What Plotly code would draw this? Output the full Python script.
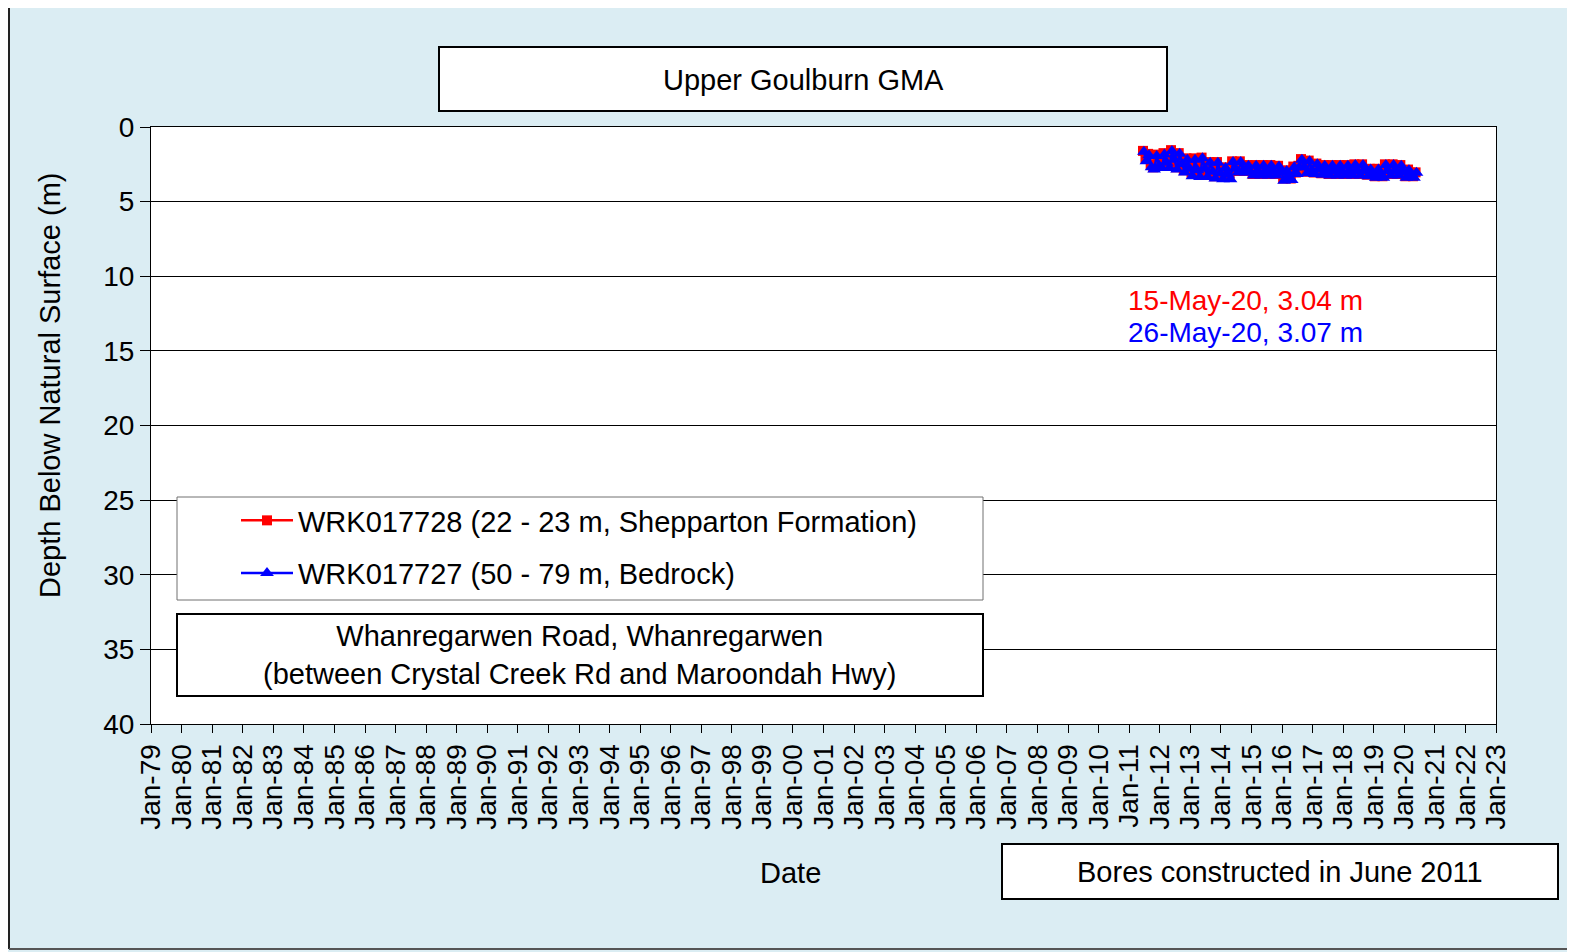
import pandas as pd
import plotly.graph_objects as go

# ---- data (depth below natural surface, m), monthly readings Jun-2011 .. May-2020 ----
red_name = "WRK017728 (22 - 23 m, Shepparton Formation)"
blue_name = "WRK017727 (50 - 79 m, Bedrock)"

red_depth = [
    1.6, 2.1, 1.8, 2.5, 2.7, 1.85, 2.45,
    2.6, 1.75, 2.25, 2.6, 1.55, 2.05, 2.7, 1.75, 2.35, 2.9, 2.1, 2.7,
    3.15, 2.1, 2.75, 3.2, 2.05, 2.65, 3.2, 2.35, 2.85, 3.3, 2.35, 2.95,
    3.35, 2.7, 3.05, 3.35, 2.3, 2.65, 2.95, 2.3, 2.75, 2.95, 2.55, 2.95,
    3.15, 2.55, 2.9, 3.15, 2.55, 2.85, 3.15, 2.55, 2.9, 3.15, 2.6, 2.95,
    3.45, 2.9, 3.25, 3.45, 2.65, 3.05, 2.6, 2.15, 2.55, 3.0, 2.25, 2.75,
    3.05, 2.45, 2.75, 3.1, 2.55, 2.85, 3.15, 2.55, 2.85, 3.15, 2.55, 2.9,
    3.15, 2.55, 2.85, 3.15, 2.5, 2.85, 3.15, 2.5, 2.85, 3.2, 2.8, 3.05,
    3.3, 2.8, 3.05, 3.3, 2.5, 2.85, 3.15, 2.5, 2.85, 3.15, 2.55, 2.95,
    3.3, 2.85, 3.05, 3.3, 3.04,
]
blue_depth = [
    1.65, 2.3, 1.9, 2.7, 2.85, 1.95, 2.6,
    2.75, 1.85, 2.4, 2.75, 1.6, 2.2, 2.85, 1.8, 2.5, 3.05, 2.2, 2.8,
    3.3, 2.2, 2.9, 3.35, 2.1, 2.8, 3.35, 2.4, 3.0, 3.45, 2.4, 3.1,
    3.5, 2.75, 3.2, 3.5, 2.35, 2.8, 3.05, 2.35, 2.9, 3.05, 2.6, 3.05,
    3.25, 2.6, 3.0, 3.25, 2.6, 2.95, 3.25, 2.6, 3.0, 3.25, 2.65, 3.05,
    3.6, 2.95, 3.35, 3.55, 2.7, 3.15, 2.7, 2.2, 2.7, 3.1, 2.3, 2.9,
    3.15, 2.5, 2.85, 3.2, 2.6, 2.95, 3.25, 2.6, 2.95, 3.25, 2.6, 3.0,
    3.25, 2.6, 2.95, 3.25, 2.55, 2.95, 3.25, 2.55, 2.95, 3.3, 2.85, 3.15,
    3.4, 2.85, 3.15, 3.4, 2.55, 2.95, 3.25, 2.55, 2.95, 3.25, 2.6, 3.05,
    3.4, 2.9, 3.15, 3.4, 3.07,
]
red_dates = pd.date_range("2011-06-01", "2020-05-01", freq="MS") + pd.Timedelta(days=14)
blue_dates = pd.date_range("2011-06-01", "2020-05-01", freq="MS") + pd.Timedelta(days=25)

y_ticks = [0, 5, 10, 15, 20, 25, 30, 35, 40]
x_start, x_end = "1979-01-01", "2023-01-01"

title_text = "Upper Goulburn GMA"
site_text = "Whanregarwen Road, Whanregarwen<br>(between Crystal Creek Rd and Maroondah Hwy)"
note_text = "Bores constructed in June 2011"
red_last = "15-May-20, 3.04 m"
blue_last = "26-May-20, 3.07 m"
x_title = "Date"
y_title = "Depth Below Natural Surface (m)"

# ---- geometry (page pixels; the figure sits 8px in from the page corner) ----
W_PX, H_PX = 1575, 952
OFF = 8
L, R, T, B = 151, 1496, 127, 724
PW, PH = R - L, B - T


def px(x):
    return (x - L) / PW


def py(y):
    return (B - y) / PH


FONT = "Liberation Sans, Arial, sans-serif"
BG = "#DBEDF3"

fig = go.Figure()
fig.add_trace(go.Scatter(
    x=red_dates, y=red_depth, name=red_name, mode="lines+markers", legendgroup="a",
    line=dict(color="#FF0000", width=2.5),
    marker=dict(symbol="square", size=10, color="#FF0000"),
))
fig.add_trace(go.Scatter(
    x=blue_dates, y=blue_depth, name=blue_name, mode="lines+markers", legendgroup="b",
    line=dict(color="#0000FF", width=2.5),
    marker=dict(symbol="triangle-up", size=12, color="#0000FF"),
))

shapes = [
    # outer border (left, top, bottom)
    dict(type="line", xref="paper", yref="paper", x0=px(9), x1=px(9), y0=py(949), y1=py(7),
         line=dict(color="#222222", width=2)),
    dict(type="line", xref="paper", yref="paper", x0=px(9), x1=px(1600), y0=py(7), y1=py(7),
         line=dict(color="#222222", width=2)),
    dict(type="line", xref="paper", yref="paper", x0=px(9), x1=px(1600), y0=py(949), y1=py(949),
         line=dict(color="#555555", width=2)),
    # title box
    dict(type="rect", xref="paper", yref="paper", x0=px(439), x1=px(1167), y0=py(111), y1=py(47),
         line=dict(color="black", width=2), fillcolor="white", layer="above"),
    # legend box
    dict(type="rect", xref="paper", yref="paper", x0=px(177), x1=px(983), y0=py(600), y1=py(497),
         line=dict(color="#707070", width=1), fillcolor="white", layer="above"),
    # site box
    dict(type="rect", xref="paper", yref="paper", x0=px(177), x1=px(983), y0=py(696), y1=py(614),
         line=dict(color="black", width=2), fillcolor="white", layer="above"),
    # note box
    dict(type="rect", xref="paper", yref="paper", x0=px(1002), x1=px(1558), y0=py(899), y1=py(844),
         line=dict(color="black", width=2), fillcolor="white", layer="above"),
]

annotations = [
    dict(text=title_text, x=px(803), y=py(80), font=dict(size=29)),
    dict(text=site_text, x=px(579), y=py(655), font=dict(size=29)),
    dict(text=note_text, x=px(1280), y=py(872), font=dict(size=29)),
    dict(text=red_last, x=px(1245), y=py(300), font=dict(size=28, color="#FF0000")),
    dict(text=blue_last, x=px(1245), y=py(332), font=dict(size=28, color="#0000FF")),
    dict(text=x_title, x=px(790), y=py(873), font=dict(size=29)),
    dict(text=y_title, x=px(50), y=py(385), font=dict(size=29), textangle=-90),
]
for a in annotations:
    a.update(xref="paper", yref="paper", showarrow=False, xanchor="center", yanchor="middle")
    a["font"] = dict(family=FONT, color=a["font"].get("color", "black"), size=a["font"]["size"])

fig.update_layout(
    width=W_PX, height=H_PX,
    margin=dict(l=L - OFF, r=W_PX - (R - OFF), t=T - OFF, b=H_PX - (B - OFF), autoexpand=False),
    paper_bgcolor=BG, plot_bgcolor="white",
    font=dict(family=FONT, size=28, color="black"),
    showlegend=True,
    legend=dict(x=px(236), y=py(495), xanchor="left", yanchor="top",
                bgcolor="rgba(0,0,0,0)", borderwidth=0,
                font=dict(family=FONT, size=29, color="black"),
                tracegroupgap=12, itemwidth=52),
    shapes=shapes, annotations=annotations,
)

fig.update_xaxes(
    type="date", range=[x_start, x_end], dtick="M12", tick0="1979-01-01",
    tickformat="%b-%y", tickangle=-90, ticks="outside", ticklen=8, tickcolor="black",
    tickfont=dict(family=FONT, size=28), showgrid=False, showline=True, linecolor="black",
    linewidth=1, mirror=True, zeroline=False,
)
fig.update_yaxes(
    range=[40, 0], tickvals=y_ticks, ticks="outside", ticklen=10, tickcolor="black",
    tickfont=dict(family=FONT, size=28), showgrid=True, gridcolor="black", gridwidth=1,
    showline=True, linecolor="black", linewidth=1, mirror=True, zeroline=False,
)

fig.write_html("out.html")
